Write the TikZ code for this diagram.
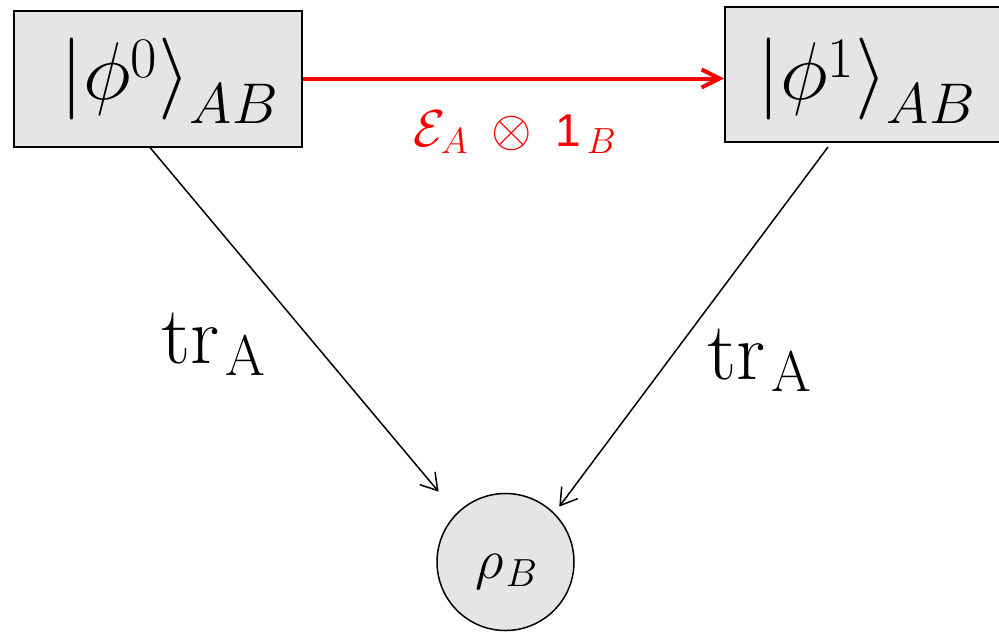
\RequirePackage{fix-cm}
\documentclass[tikz,border=0pt]{standalone}
\usepackage[no-math]{fontspec}
\newfontfamily\arialfont{Liberation Sans}
\usetikzlibrary{arrows.meta,calc}
\newcommand{\lowsub}[2]{\raisebox{#1}{$\scriptstyle #2$}}
\begin{document}
\begin{tikzpicture}[x=0.5pt,y=-0.5pt,
  boxst/.style={draw=black,line width=1pt,fill=black!10,rectangle,inner sep=0pt},
  lbl/.style={inner sep=0pt,anchor=base west},
  big/.style={font=\fontsize{41}{49}\selectfont},
  conn/.style={draw=black,line width=0.75pt,-{Straight Barb[length=8pt,width=10pt]}},
  redconn/.style={draw=red,line width=2pt,-{Straight Barb[length=9pt,width=9pt]}}]
\useasboundingbox (0,0) rectangle (999,632);
\node[boxst,minimum width=144pt,minimum height=68pt] (b0) at (158,78.5) {};
\node[boxst,minimum width=150pt,minimum height=67.5pt] (b1) at (875,74.5) {};
\node[circle,draw=black,line width=0.75pt,fill=black!10,minimum size=68.5pt,inner sep=0pt] (rho) at (505.5,562) {};
\node[lbl,big] (t0) at (60,99) {$|\phi^{\lowsub{-4pt}{0}}\rangle_{\lowsub{-6pt}{AB}}$};
\node[lbl,big] (t1) at (757,99) {$|\phi^{\lowsub{-4pt}{1}}\rangle_{\lowsub{-6pt}{AB}}$};
\node[lbl,font=\fontsize{26}{31}\selectfont,text=red] (eps) at (413,146) {$\mathcal{E}_A\mkern4mu\otimes\mkern4mu\mbox{\fontsize{23}{28}\selectfont\arialfont 1}_{\mkern3mu\lowsub{0pt}{\fontsize{20}{24}\selectfont B}}$};
\node[lbl,big] (tr0) at (161,363) {$\mathrm{tr}_{\mkern2mu\mathrm{A}}$};
\node[lbl,big] (tr1) at (707,379) {$\mathrm{tr}_{\mkern2mu\mathrm{A}}$};
\node[lbl,font=\fontsize{28}{34}\selectfont] (rhot) at (475,578) {$\rho_{\mkern1mu B}$};
\draw[redconn] (b0.east) -- (b1.west |- b0.east);
\draw[conn,shorten >=14pt] ([xshift=-4pt]b0.south) -- (rho.north west);
\draw[conn,shorten <=2.5pt,shorten >=4pt] ([xshift=-22pt]b1.south) -- (rho.north east);
\end{tikzpicture}
\end{document}
